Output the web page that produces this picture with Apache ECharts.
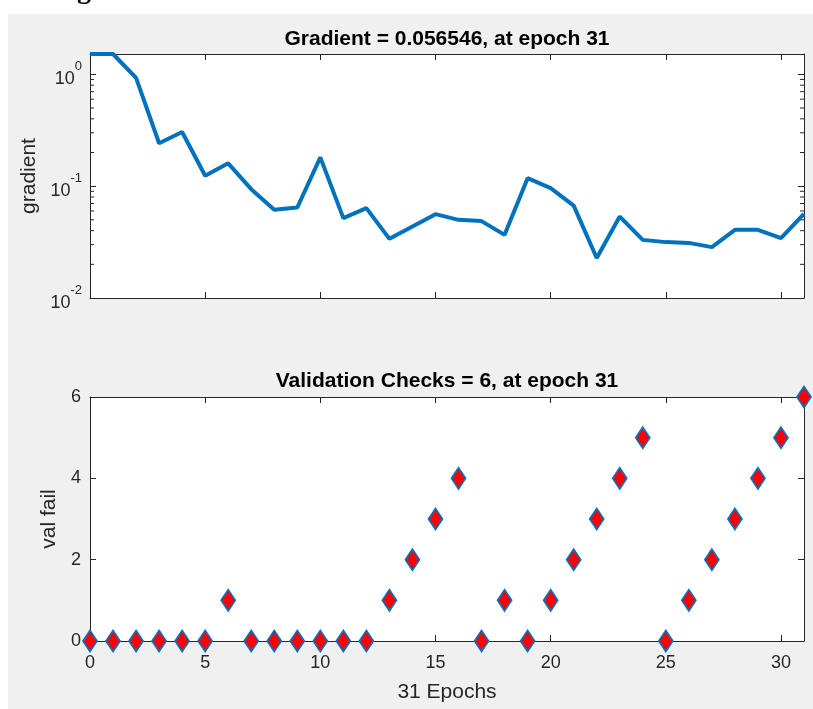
<!DOCTYPE html>
<html>
<head>
<meta charset="utf-8">
<script src="https://cdn.jsdelivr.net/npm/echarts@6/dist/echarts.min.js"></script>
<style>
  html, body { margin: 0; padding: 0; background: #fff; }
  #main { width: 813px; height: 709px; }
</style>
</head>
<body>
<div id="main"></div>
<script>
/* 数据 */
var epochs = [0,1,2,3,4,5,6,7,8,9,10,11,12,13,14,15,16,17,18,19,20,21,22,23,24,25,26,27,28,29,30,31];
var gradient = [1.52,1.52,0.93,0.242,0.305,0.124,0.160,0.094,0.0614,0.0644,0.181,0.0518,0.0636,0.0338,0.0436,0.0562,
                0.050,0.0487,0.0367,0.118,0.096,0.067,0.0228,0.0535,0.0331,0.0316,0.0311,0.0285,0.0407,0.0407,0.0343,0.0565];
var valFail = [0,0,0,0,0,0,1,0,0,0,0,0,0,1,2,3,4,0,1,0,1,2,3,4,5,0,1,2,3,4,5,6];
var minorTicks = [0.02,0.03,0.04,0.05,0.06,0.07,0.08,0.09,0.2,0.3,0.4,0.5,0.6,0.7,0.8,0.9];
var titles = ['Gradient = 0.056546, at epoch 31', 'Validation Checks = 6, at epoch 31'];

var axisColor = '#262626';
var fontName = '"Liberation Sans", Arial, sans-serif';

var gradData = [];
var valData = [];
for (var i = 0; i < epochs.length; i++) {
  gradData.push([epochs[i], gradient[i]]);
  valData.push([epochs[i], valFail[i]]);
}
var minorData = minorTicks.map(function (v) { return [0, v]; });

/* 坐标轴公共样式 */
function baseAxis(extra) {
  var a = {
    axisLine: { show: true, onZero: false, lineStyle: { color: axisColor, width: 1 } },
    axisTick: { show: true, inside: true, length: 6, lineStyle: { color: axisColor } },
    splitLine: { show: false },
    axisLabel: { show: false }
  };
  for (var k in extra) a[k] = extra[k];
  return a;
}

var myChart = echarts.init(document.getElementById('main'));

var option = {
  animation: false,
  backgroundColor: '#fff',
  graphic: [
    { type: 'rect', z: -10, shape: { x: 8, y: 14, width: 813, height: 709 }, style: { fill: '#f0f0f0' } },
    { type: 'text', x: 77, y: 5, style: { text: 'g', font: 'bold 28px "Liberation Serif"', fill: '#000', verticalAlign: 'bottom' } },
    { type: 'text', x: 447, y: 39, style: { text: titles[0], font: 'bold 21px ' + fontName, fill: '#000', align: 'center', verticalAlign: 'middle' } },
    { type: 'text', x: 447, y: 381, style: { text: titles[1], font: 'bold 21px ' + fontName, fill: '#000', align: 'center', verticalAlign: 'middle' } }
  ],
  grid: [
    { left: 90, top: 54, right: 9, height: 244, show: true, backgroundColor: '#fff', borderWidth: 0 },
    { left: 90, top: 397, right: 9, height: 244, show: true, backgroundColor: '#fff', borderWidth: 0 }
  ],
  xAxis: [
    baseAxis({ type: 'value', gridIndex: 0, position: 'bottom', min: 0, max: 31, interval: 5 }),
    baseAxis({ type: 'value', gridIndex: 0, position: 'top', min: 0, max: 31, interval: 5 }),
    baseAxis({
      type: 'value', gridIndex: 1, position: 'bottom', min: 0, max: 31, interval: 5,
      axisLabel: { show: true, showMaxLabel: false, margin: 13, color: axisColor, fontSize: 18, fontFamily: fontName,
        formatter: function (v) { return v % 5 === 0 ? String(v) : ''; } },
      name: '31 Epochs', nameLocation: 'middle', nameGap: 41,
      nameTextStyle: { color: axisColor, fontSize: 21, fontFamily: fontName }
    }),
    baseAxis({ type: 'value', gridIndex: 1, position: 'top', min: 0, max: 31, interval: 5 })
  ],
  yAxis: [
    baseAxis({
      type: 'log', logBase: 10, gridIndex: 0, position: 'left', min: 0.01, max: Math.max.apply(null, gradient),
      axisLabel: {
        show: true, margin: 8,
        formatter: function (v) {
          var e = Math.log(v) / Math.LN10;
          var r = Math.round(e);
          if (Math.abs(e - r) > 1e-6) return '';
          return '{b|10}{s|' + r + '}';
        },
        rich: {
          b: { fontSize: 18, fontFamily: fontName, color: axisColor, lineHeight: 28, verticalAlign: 'bottom' },
          s: { fontSize: 13, fontFamily: fontName, color: axisColor, lineHeight: 28, verticalAlign: 'top' }
        }
      },
      name: 'gradient', nameLocation: 'middle', nameGap: 46,
      nameTextStyle: { color: axisColor, fontSize: 21, fontFamily: fontName }
    }),
    baseAxis({ type: 'log', logBase: 10, gridIndex: 0, position: 'right', min: 0.01, max: Math.max.apply(null, gradient) }),
    baseAxis({
      type: 'value', gridIndex: 1, position: 'left', min: 0, max: 6, interval: 2,
      axisLabel: { show: true, margin: 9, color: axisColor, fontSize: 18, fontFamily: fontName },
      name: 'val fail', nameLocation: 'middle', nameGap: 24,
      nameTextStyle: { color: axisColor, fontSize: 21, fontFamily: fontName }
    }),
    baseAxis({ type: 'value', gridIndex: 1, position: 'right', min: 0, max: 6, interval: 2 })
  ],
  series: [
    {
      name: 'gradient', type: 'line', xAxisIndex: 0, yAxisIndex: 0,
      data: gradData, showSymbol: false, clip: false,
      lineStyle: { color: '#0072BD', width: 4 }
    },
    {
      /* 对数轴次刻度 */
      name: 'minor', type: 'custom', xAxisIndex: 0, yAxisIndex: 0, silent: true,
      data: minorData,
      renderItem: function (params, api) {
        var y = api.coord([0, api.value(1)])[1];
        var cs = params.coordSys;
        return {
          type: 'group',
          children: [
            { type: 'line', shape: { x1: cs.x, y1: y, x2: cs.x + 4, y2: y }, style: { stroke: axisColor, lineWidth: 1 } },
            { type: 'line', shape: { x1: cs.x + cs.width - 4, y1: y, x2: cs.x + cs.width, y2: y }, style: { stroke: axisColor, lineWidth: 1 } }
          ]
        };
      }
    },
    {
      name: 'val fail', type: 'scatter', xAxisIndex: 2, yAxisIndex: 2,
      data: valData, clip: false, symbol: 'diamond', symbolSize: [14, 21],
      itemStyle: { color: '#ff0000', borderColor: '#0072BD', borderWidth: 1.8, opacity: 1 }
    }
  ]
};
myChart.setOption(option);
</script>
</body>
</html>
